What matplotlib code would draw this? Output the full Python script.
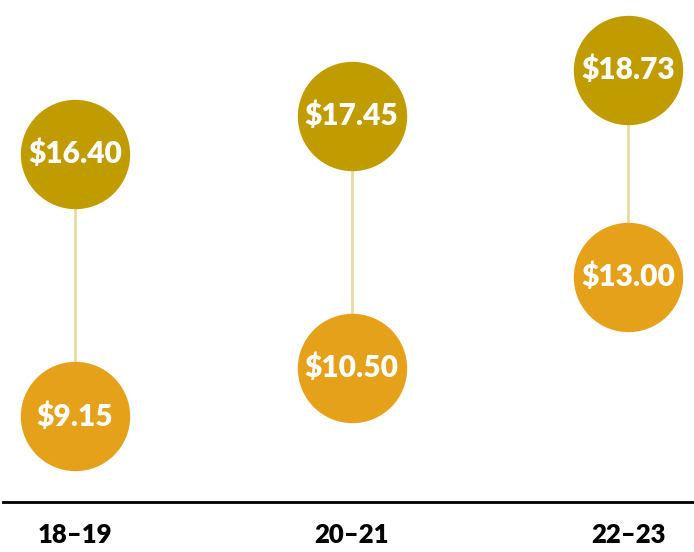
import matplotlib
matplotlib.use("Agg")
import matplotlib.pyplot as plt

years = ["18\u201319", "20\u201321", "22\u201323"]
high = [16.40, 17.45, 18.73]
low = [9.15, 10.50, 13.00]

high_color = "#C09C00"
low_color = "#E5A119"
line_color = "#EAD9A2"

plt.rcParams["font.family"] = ["Lato", "DejaVu Sans"]

fig = plt.figure(figsize=(6.94, 5.52), dpi=100)
ax = fig.add_axes([0, 50 / 552, 1, 502 / 552])

x = list(range(len(years)))

# connector lines
for i in x:
    ax.plot([i, i], [low[i], high[i]], color=line_color, lw=2, zorder=1)

ax.scatter(x, high, s=6200, color=high_color, zorder=2, linewidths=0)
ax.scatter(x, low, s=6200, color=low_color, zorder=2, linewidths=0)

for i in x:
    ax.text(i, high[i], "${:.2f}".format(high[i]), ha="center", va="center",
            color="white", fontsize=21.5, fontweight="heavy", zorder=3)
    ax.text(i, low[i], "${:.2f}".format(low[i]), ha="center", va="center",
            color="white", fontsize=21.5, fontweight="heavy", zorder=3)

ax.set_xlim(-0.271, 2.238)
ax.set_ylim(6.784, 20.66)
ax.set_xticks(x)
ax.set_xticklabels(years, fontsize=18.5, fontweight="heavy")
ax.tick_params(axis="x", length=0, pad=15)
ax.set_yticks([])
for side in ["left", "right", "top"]:
    ax.spines[side].set_visible(False)
ax.spines["bottom"].set_linewidth(2)
ax.spines["bottom"].set_bounds(-0.26, 2.238)
ax.set_facecolor("none")

fig.savefig("out.png", dpi=100)
